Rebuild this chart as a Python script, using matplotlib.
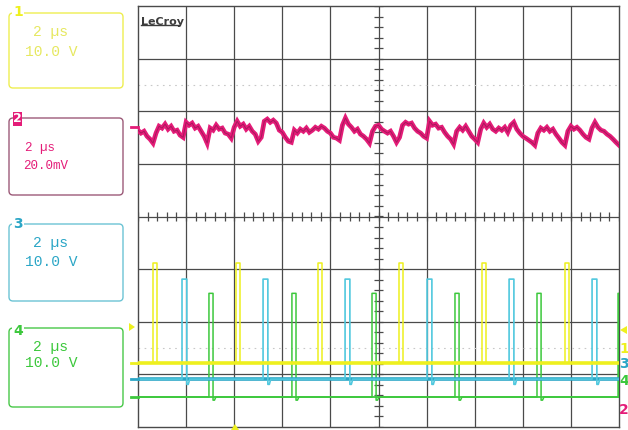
import numpy as np
import matplotlib
matplotlib.use("Agg")
import matplotlib.pyplot as plt
from matplotlib.patches import FancyBboxPatch, Rectangle, Polygon

# ---------------- data ----------------
time_per_div = 2.0          # µs / div
n_xdiv, n_ydiv = 10, 8

ch_labels = ["1", "2", "3", "4"]
ch_timebase = ["2 µs", "2 µs", "2 µs", "2 µs"]
ch_scale = ["10.0 V", "20.0mV", "10.0 V", "10.0 V"]

# channel 1 (yellow) pulses: start times (µs), width (µs), low / high level (div)
ch1_pulse_t = [0.62, 4.07, 7.48, 10.85, 14.30, 17.75]
ch1_width = 0.17
ch1_low, ch1_high = -2.79, -0.89

# channel 3 (cyan)
ch3_pulse_t = [1.83, 5.20, 8.61, 12.02, 15.43, 18.88]
ch3_width = 0.20
ch3_low, ch3_high, ch3_under = -3.09, -1.19, -3.19

# channel 4 (green)
ch4_pulse_t = [2.95, 6.40, 9.73, 13.18, 16.59, 19.96]
ch4_width = 0.17
ch4_low, ch4_high, ch4_under = -3.43, -1.46, -3.49

# channel 2 (magenta) ripple, mV, sampled every 0.125 µs
ch2_offset_div = 1.64
ch2_mv_per_div = 20.0
ch2_mv = [0.0, -1.1, -0.4, -2.3, -3.4, -4.9, -1.1, 1.5, 0.8, 2.3,
          0.4, 1.5, -0.4, 0.0, -1.9, -2.7, 3.0, 1.9, 2.7, 0.8,
          1.5, -0.4, -2.3, -4.9, 0.8, 0.0, 1.9, 0.4, 0.8, -1.1,
          -1.5, -3.0, 1.1, 3.4, 1.5, 2.3, 0.4, 1.5, -0.4, -1.5,
          -4.2, -2.7, 3.4, 4.2, 3.0, 3.8, 2.7, 0.0, -0.8, -2.7,
          -4.2, -4.6, 0.0, -1.1, 0.4, -0.4, 0.8, -0.8, 0.0, 1.1,
          0.4, 1.5, 0.8, -0.4, -1.1, -2.7, -3.0, -3.8, 1.9, 4.6,
          2.3, 1.1, -0.4, 0.4, -1.5, -2.3, -3.4, -4.9, -0.4, 1.5,
          1.9, 0.4, -0.4, -1.1, -0.4, -2.3, -4.6, -2.7, 1.9, 3.0,
          2.3, 2.7, 0.8, -0.4, -1.1, -2.3, -3.0, 3.4, 1.9, 2.3,
          0.8, 1.1, -0.8, -2.3, -3.4, -5.3, -0.4, 1.1, 0.0, 1.5,
          -0.4, -2.3, -3.4, -4.6, 0.4, 2.7, 1.1, 2.3, 0.4, -0.4,
          0.8, 0.0, 1.1, -0.8, 1.9, 3.0, 0.4, -1.1, -2.3, -3.0,
          -3.8, -4.6, -5.7, -1.1, 0.8, 0.0, 1.1, -0.4, 0.4, -1.5,
          -3.0, -4.6, -5.7, -0.4, 1.5, 0.4, 1.1, 0.0, -1.5, -2.7,
          -3.4, 0.8, 3.0, 1.1, 0.0, -0.4, -1.5, -2.3, -3.4, -4.6,
          -5.7]

# ---------------- colours ----------------
C_YEL = "#eef01e"
C_MAG = "#e41c78"
C_MAG_D = "#a8185c"
C_CYA_B = "#2ba6c6"
C_CYA = "#50c8de"
C_GRN = "#3cc83c"
C_GRID = "#4a4a4a"

W, H = 628, 430
fig = plt.figure(figsize=(W / 100, H / 100), dpi=100)
fig.patch.set_facecolor("white")

# main scope screen
L, R, T, B = 138, 619, 6, 427
ax = fig.add_axes([L / W, (H - B) / H, (R - L) / W, (B - T) / H])
tmax = n_xdiv * time_per_div
ax.set_xlim(0, tmax)
ax.set_ylim(-n_ydiv / 2, n_ydiv / 2)
ax.set_xticks([])
ax.set_yticks([])
for s in ax.spines.values():
    s.set_color(C_GRID)
    s.set_linewidth(1.0)

# overlay axes in pixel coordinates (on top, transparent)
ov = fig.add_axes([0, 0, 1, 1])
ov.set_xlim(0, W)
ov.set_ylim(H, 0)
ov.axis("off")
ov.set_zorder(10)
ov.patch.set_alpha(0)

# grid
for i in range(1, n_xdiv):
    ax.axvline(i * time_per_div, color=C_GRID, lw=0.9, zorder=1)
for j in range(1, n_ydiv):
    ax.axhline(j - n_ydiv / 2, color=C_GRID, lw=0.9, zorder=1)

# faint dotted reference lines
for yy in (2.5, -2.5):
    ax.axhline(yy, color="#c8c8c8", lw=0.8, ls=(0, (1.5, 4)), zorder=1)

# centre cross minor ticks
xc = tmax / 2
minor_x = np.arange(0, tmax + 1e-9, time_per_div / 5)
minor_y = np.arange(-n_ydiv / 2, n_ydiv / 2 + 1e-9, 0.2)
ax.vlines(minor_x, -0.08, 0.08, color=C_GRID, lw=0.9, zorder=2)
ax.hlines(minor_y, xc - 0.17, xc + 0.17, color=C_GRID, lw=0.9, zorder=2)

# channel 2 ripple
t2 = np.linspace(0, tmax, len(ch2_mv))
y2 = ch2_offset_div + np.array(ch2_mv) / ch2_mv_per_div
ax.plot(t2, y2, color=C_MAG, lw=3.4, zorder=3, solid_joinstyle="miter")
ax.plot(t2, y2, color=C_MAG_D, lw=0.7, zorder=3.1)


def pulse_train(starts, width, low, high, under=None):
    xs, ys = [0.0], [low]
    for s in starts:
        e = min(s + width, tmax)
        xs += [s, s, e]
        ys += [low, high, high]
        if e < tmax:
            if under is not None:
                xs += [e, e + 0.06, e + 0.12]
                ys += [under, under, low]
            else:
                xs += [e]
                ys += [low]
    xs.append(tmax)
    ys.append(low)
    return np.array(xs), np.array(ys)


# green
x4, y4 = pulse_train(ch4_pulse_t, ch4_width, ch4_low, ch4_high, ch4_under)
ax.axhline(ch4_low, color=C_GRN, lw=1.3, zorder=4)
ax.plot(x4, y4, color=C_GRN, lw=1.1, zorder=4)
# cyan
x3, y3 = pulse_train(ch3_pulse_t, ch3_width, ch3_low, ch3_high, ch3_under)
ax.axhline(ch3_low, color=C_CYA_B, lw=2.6, zorder=5)
ax.plot(x3, y3, color=C_CYA, lw=1.2, zorder=5)
# yellow
x1, y1 = pulse_train(ch1_pulse_t, ch1_width, ch1_low, ch1_high)
ax.axhline(ch1_low, color=C_YEL, lw=2.6, zorder=6)
ax.plot(x1, y1, color=C_YEL, lw=1.1, zorder=6)

# LeCroy logo
ax.text(0.007, 0.975, "LeCroy", transform=ax.transAxes, ha="left", va="top",
        fontsize=8, fontweight="bold", color="#3c3c3c", family="DejaVu Sans", zorder=7)
ov.plot([141, 179], [25, 25], color="#3c3c3c", lw=1.0)

# ---------------- left channel panels ----------------
panels = [
    dict(y0=13, y1=88, col=C_YEL, edge="#eeee50", lab_y=12, t_y=(32, 52), fs=10.5, tx=(33, 25)),
    dict(y0=118, y1=195, col=C_MAG, edge="#9c5a78", lab_y=119, t_y=(148, 166), fs=9, tx=(25, 23)),
    dict(y0=224, y1=301, col=C_CYA_B, edge="#6cc4d4", lab_y=224, t_y=(243, 262), fs=10.5, tx=(33, 25)),
    dict(y0=328, y1=407, col=C_GRN, edge="#48c848", lab_y=331, t_y=(347, 363), fs=10.5, tx=(33, 25)),
]
for k, p in enumerate(panels):
    box = FancyBboxPatch((9, p["y0"]), 114, p["y1"] - p["y0"],
                         boxstyle="round,pad=0,rounding_size=4",
                         fc="none", ec=p["edge"], lw=1.0)
    ov.add_patch(box)
    if k == 1:
        ov.add_patch(Rectangle((13, 112), 9, 14, fc=C_MAG, ec="none"))
        ov.text(17.5, 119, ch_labels[k], color="white", fontsize=9, fontweight="bold",
                ha="center", va="center", family="DejaVu Sans")
    else:
        ov.text(18, p["lab_y"], ch_labels[k], color=p["col"], fontsize=10, fontweight="bold",
                ha="center", va="center", family="DejaVu Sans",
                bbox=dict(fc="white", ec="none", pad=0.5))
    tcol = p["col"] if k != 0 else "#e6e860"
    ov.text(p["tx"][0], p["t_y"][0], ch_timebase[k], color=tcol, fontsize=p["fs"],
            ha="left", va="center", family="Liberation Mono")
    ov.text(p["tx"][1], p["t_y"][1], ch_scale[k], color=tcol, fontsize=p["fs"],
            ha="left", va="center", family="Liberation Mono")

# ---------------- edge markers ----------------
for yy, c in [(127, C_MAG), (363, C_YEL), (379, C_CYA_B), (397, C_GRN)]:
    ov.plot([131, 138], [yy, yy], color=c, lw=2.0)
ov.add_patch(Polygon([[129, 323], [129, 331], [135, 327]], closed=True, fc=C_YEL, ec="none"))
ov.add_patch(Polygon([[231, 430], [239, 430], [235, 424]], closed=True, fc=C_YEL, ec="none"))
ov.add_patch(Polygon([[620, 330], [627, 326], [627, 334]], closed=True, fc=C_YEL, ec="none"))
for lab, yy, c in [("1", 349, C_YEL), ("3", 364, C_CYA_B), ("4", 381, C_GRN), ("2", 410, C_MAG)]:
    ov.text(624, yy, lab, color=c, fontsize=10, fontweight="bold", ha="center", va="center",
            family="DejaVu Sans")

fig.savefig("out.png", dpi=100, facecolor="white")
